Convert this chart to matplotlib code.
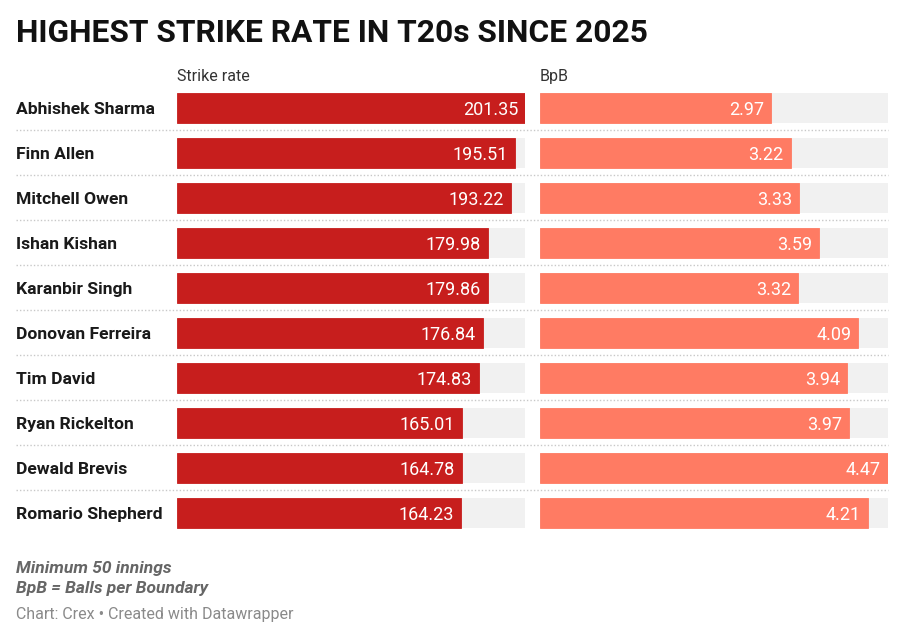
import matplotlib.pyplot as plt
from matplotlib.lines import Line2D

players = ["Abhishek Sharma", "Finn Allen", "Mitchell Owen", "Ishan Kishan",
           "Karanbir Singh", "Donovan Ferreira", "Tim David", "Ryan Rickelton",
           "Dewald Brevis", "Romario Shepherd"]
strike_rate = [201.35, 195.51, 193.22, 179.98, 179.86, 176.84, 174.83, 165.01, 164.78, 164.23]
bpb = [2.97, 3.22, 3.33, 3.59, 3.32, 4.09, 3.94, 3.97, 4.47, 4.21]

W, H = 904, 640
fig = plt.figure(figsize=(W / 100, H / 100), dpi=100)
fig.patch.set_facecolor("white")

roboto = ["Roboto", "DejaVu Sans"]

# title
fig.text(16 / W, 1 - 33 / H, "HIGHEST STRIKE RATE IN T20s SINCE 2025",
         family=roboto, weight="bold", fontsize=22.9, color="#111111",
         ha="left", va="center")

rows = list(range(len(players)))
top, bottom = 85.5, 535.5


def make_ax(x0, width):
    ax = fig.add_axes([x0 / W, 1 - bottom / H, width / W, (bottom - top) / H])
    ax.set_ylim(len(players) - 0.5, -0.5)
    ax.axis("off")
    return ax


ax_sr = make_ax(177, 348)
ax_b = make_ax(540, 348)

cols = [(ax_sr, strike_rate, "#c71e1d", "Strike rate"),
        (ax_b, bpb, "#ff7b63", "BpB")]

for ax, vals, col, head in cols:
    vmax = max(vals)
    ax.set_xlim(0, vmax)
    ax.barh(rows, [vmax] * len(rows), height=0.66, color="#f1f1f1", linewidth=0)
    ax.barh(rows, vals, height=0.66, color=col, edgecolor=col, linewidth=0.6)
    for r, v in zip(rows, vals):
        ax.annotate(f"{v:.2f}", (v, r), xytext=(-5, 0), textcoords="offset points",
                    family=roboto, fontsize=13, color="white",
                    ha="right", va="center_baseline")
    ax.text(0, -0.5 - 10.5 / 45, head, family=roboto, fontsize=11.5,
            color="#333333", ha="left", va="center_baseline")

# names and dotted separators
x_left = (16 - 177) / 348
x_right = (888 - 177) / 348
ytr = ax_sr.get_yaxis_transform()
for r, name in zip(rows, players):
    ax_sr.text(x_left, r, name, transform=ytr, family=roboto, weight="bold",
               fontsize=12.6, color="#1a1a1a", ha="left", va="center_baseline")
    if r < len(rows) - 1:
        ax_sr.add_line(Line2D([x_left, x_right], [r + 0.5, r + 0.5], transform=ytr,
                              color="#c8c8c8", linewidth=1, linestyle=(0, (1, 1.5)),
                              clip_on=False))

# notes
fig.text(16 / W, 1 - 569 / H, "Minimum 50 innings", family=roboto, style="italic",
         weight="bold", fontsize=12.5, color="#666666", ha="left", va="center")
fig.text(16 / W, 1 - 589 / H, "BpB = Balls per Boundary", family=roboto, style="italic",
         weight="bold", fontsize=12.5, color="#666666", ha="left", va="center")
fig.text(16 / W, 1 - 615 / H, "Chart: Crex \u2022 Created with Datawrapper", family=roboto,
         fontsize=11.5, color="#8a8a8a", ha="left", va="center")

fig.savefig("out.png", dpi=100)
